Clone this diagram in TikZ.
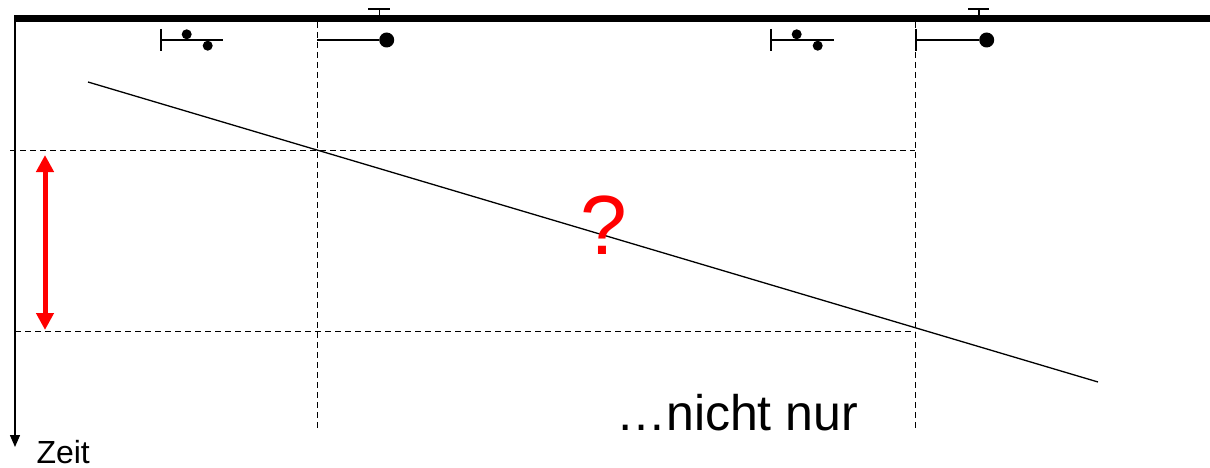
\documentclass[tikz,border=0pt]{standalone}
\usepackage{fontspec}
\setmainfont{Liberation Sans}
\usetikzlibrary{arrows.meta}
\begin{document}
\begin{tikzpicture}[x=1pt,y=-1pt,
  dashline/.style={dash pattern=on 6pt off 4pt,line width=1pt},
  dotsmall/.style={circle,fill=black,inner sep=0pt,minimum size=10pt},
  dotbig/.style={circle,fill=black,inner sep=0pt,minimum size=15pt},
  thin/.style={line width=1.2pt},
  txt/.style={inner sep=0pt,outer sep=0pt}]
\useasboundingbox (0,0) rectangle (1210,468);
% top thick line
\coordinate (topL) at (14,19);
\coordinate (topR) at (1210,19);
\draw[line width=7pt] (topL) -- (topR);
% time axis
\coordinate (axTop) at (15,19);
\coordinate (axBot) at (15,447);
\draw[line width=1.4pt,-{Triangle[width=10pt,length=12pt]}] (axTop) -- (axBot);
\node[txt,anchor=base west,font=\fontsize{32}{38}\selectfont] (zeit) at (36.5,463) {Zeit};
% dashed vertical lines
\coordinate (v1t) at (317,22); \coordinate (v1b) at (317,428);
\coordinate (v2t) at (915,22); \coordinate (v2b) at (915,428);
\draw[dashline] (v1t) -- (v1b);
\draw[dashline] (v2t) -- (v2b);
% dashed horizontal lines
\coordinate (h1l) at (10,150.5); \coordinate (h1r) at (915,150.5);
\coordinate (h2l) at (15,331.5); \coordinate (h2r) at (915,331.5);
\draw[dashline] (h1l) -- (h1r);
\draw[dashline] (h2l) -- (h2r);
% diagonal
\coordinate (dA) at (88,82); \coordinate (dB) at (1098,382);
\draw[line width=1.3pt] (dA) -- (dB);
% red arrow
\coordinate (rT) at (45,155); \coordinate (rB) at (45,330);
\draw[red,line width=5pt,{Triangle[width=17pt,length=17pt]}-{Triangle[width=17pt,length=17pt]}] (rT) -- (rB);
% question mark
\node[txt,text=red,font=\fontsize{84}{90}\selectfont] (q) at (604,225) {?};
% nicht nur
\node[txt,anchor=base east,font=\fontsize{50}{60}\selectfont] (nn) at (858,430) {\dots nicht nur};
% symbol group 1 (left)
\coordinate (s1a) at (161,29); \coordinate (s1b) at (161,51);
\coordinate (s1l) at (161,40); \coordinate (s1r) at (223,40);
\draw[thin] (s1a) -- (s1b);
\draw[thin] (s1l) -- (s1r);
\node[dotsmall] (s1d1) at (186.7,34.3) {};
\node[dotsmall] (s1d2) at (207.7,45.7) {};
% symbol group 2 (left)
\node[dotbig] (s2d) at (386.7,40) {};
\coordinate (s2l) at (317,40);
\draw[thin] (s2l) -- (s2d);
\coordinate (s2ta) at (379.3,9); \coordinate (s2tb) at (379.3,17);
\coordinate (s2cl) at (368,9); \coordinate (s2cr) at (390,9);
\draw[thin] (s2ta) -- (s2tb);
\draw[thin] (s2cl) -- (s2cr);
% symbol group 3 (right)
\coordinate (s3a) at (771,29); \coordinate (s3b) at (771,51);
\coordinate (s3l) at (771,40); \coordinate (s3r) at (834,40);
\draw[thin] (s3a) -- (s3b);
\draw[thin] (s3l) -- (s3r);
\node[dotsmall] (s3d1) at (796.7,34.3) {};
\node[dotsmall] (s3d2) at (817.7,45.7) {};
% symbol group 4 (right)
\node[dotbig] (s4d) at (986.7,40) {};
\coordinate (s4l) at (916,40);
\coordinate (s4a) at (916,29); \coordinate (s4b) at (916,51);
\draw[thin] (s4a) -- (s4b);
\draw[thin] (s4l) -- (s4d);
\coordinate (s4ta) at (979,9); \coordinate (s4tb) at (979,17);
\coordinate (s4cl) at (968,9); \coordinate (s4cr) at (989,9);
\draw[thin] (s4ta) -- (s4tb);
\draw[thin] (s4cl) -- (s4cr);
\end{tikzpicture}
\end{document}
